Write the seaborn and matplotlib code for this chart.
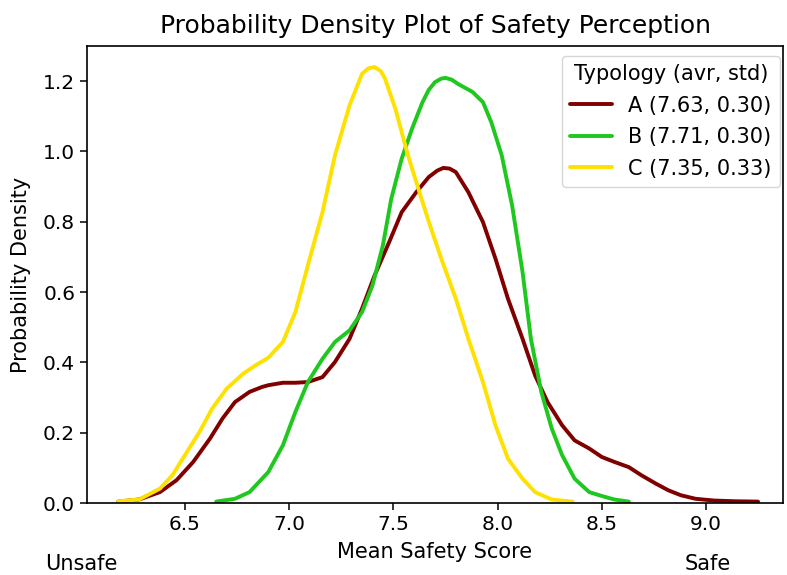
import pandas as pd
import matplotlib
matplotlib.use("Agg")
import matplotlib.pyplot as plt
import seaborn as sns

# density curves (x = mean safety score, y = density)
a_x = [6.18, 6.28, 6.38, 6.46, 6.54, 6.62, 6.68, 6.74, 6.81, 6.87, 6.90, 6.97, 7.03,
       7.09, 7.16, 7.22, 7.29, 7.35, 7.41, 7.48, 7.54, 7.61, 7.67, 7.71, 7.74, 7.77,
       7.80, 7.86, 7.93, 7.99, 8.05, 8.12, 8.18, 8.24, 8.31, 8.37, 8.44, 8.50, 8.56,
       8.63, 8.69, 8.76, 8.82, 8.88, 8.95, 9.04, 9.14, 9.25]
a_y = [0.004, 0.010, 0.031, 0.065, 0.117, 0.183, 0.240, 0.287, 0.316, 0.330, 0.335,
       0.342, 0.342, 0.344, 0.358, 0.401, 0.467, 0.553, 0.647, 0.742, 0.827, 0.884,
       0.927, 0.945, 0.953, 0.951, 0.941, 0.884, 0.799, 0.695, 0.581, 0.467, 0.363,
       0.287, 0.221, 0.178, 0.155, 0.131, 0.117, 0.102, 0.079, 0.055, 0.036, 0.022,
       0.012, 0.007, 0.005, 0.004]

b_x = [6.65, 6.74, 6.81, 6.87, 6.90, 6.97, 7.03, 7.09, 7.16, 7.22, 7.29, 7.35, 7.40,
       7.45, 7.49, 7.54, 7.59, 7.64, 7.67, 7.70, 7.73, 7.75, 7.78, 7.81, 7.88, 7.93,
       7.97, 8.02, 8.07, 8.12, 8.16, 8.21, 8.26, 8.31, 8.37, 8.44, 8.50, 8.56, 8.63]
b_y = [0.004, 0.012, 0.031, 0.069, 0.088, 0.164, 0.259, 0.344, 0.410, 0.458, 0.491,
       0.543, 0.619, 0.733, 0.865, 0.979, 1.065, 1.140, 1.175, 1.197, 1.207, 1.209,
       1.204, 1.192, 1.169, 1.140, 1.083, 0.989, 0.846, 0.657, 0.467, 0.316, 0.212,
       0.136, 0.069, 0.031, 0.020, 0.010, 0.004]

c_x = [6.18, 6.28, 6.38, 6.44, 6.50, 6.57, 6.63, 6.70, 6.78, 6.84, 6.90, 6.97, 7.03,
       7.09, 7.16, 7.22, 7.29, 7.35, 7.38, 7.41, 7.44, 7.46, 7.51, 7.57, 7.64, 7.67,
       7.73, 7.80, 7.86, 7.93, 7.99, 8.05, 8.12, 8.18, 8.26, 8.36]
c_y = [0.005, 0.010, 0.041, 0.079, 0.136, 0.202, 0.268, 0.325, 0.368, 0.392, 0.413,
       0.458, 0.543, 0.676, 0.827, 0.989, 1.131, 1.221, 1.236, 1.240, 1.228, 1.207,
       1.121, 0.989, 0.856, 0.800, 0.695, 0.581, 0.467, 0.344, 0.221, 0.126, 0.069,
       0.031, 0.010, 0.004]

labels = ["A (7.63, 0.30)", "B (7.71, 0.30)", "C (7.35, 0.33)"]
colors = ["#800000", "#1ec81e", "#ffe100"]

frames = []
for lab, xs, ys in zip(labels, [a_x, b_x, c_x], [a_y, b_y, c_y]):
    frames.append(pd.DataFrame({"score": xs, "density": ys, "typology": lab}))
df = pd.concat(frames, ignore_index=True)

sns.set_style("ticks")
plt.rcParams['font.family'] = ['DejaVu Sans']
plt.rcParams['text.color'] = 'black'
plt.rcParams['axes.labelcolor'] = 'black'
plt.rcParams['xtick.color'] = 'black'
plt.rcParams['ytick.color'] = 'black'

fig = plt.figure(figsize=(7.87, 5.75), dpi=100)
ax = fig.add_axes([0.1105, 0.1252, 0.8845, 0.795])

sns.lineplot(data=df, x="score", y="density", hue="typology",
             palette=dict(zip(labels, colors)), estimator=None, sort=False,
             linewidth=2.8, ax=ax)

ax.set_xlim(6.03, 9.37)
ax.set_ylim(0, 1.30)
ax.set_xticks([6.5, 7.0, 7.5, 8.0, 8.5, 9.0])
ax.set_yticks([0.0, 0.2, 0.4, 0.6, 0.8, 1.0, 1.2])
ax.tick_params(labelsize=14.5, length=5, width=1.1)
ax.set_xlabel("Mean Safety Score", fontsize=15, labelpad=6)
ax.set_ylabel("Probability Density", fontsize=15, labelpad=9)
ax.set_title("Probability Density Plot of Safety Perception", fontsize=18, pad=9)
for s in ax.spines.values():
    s.set_color("black")
    s.set_linewidth(1.2)

leg = ax.legend(title="Typology (avr, std)", loc="upper right", fontsize=15,
                title_fontsize=15, frameon=True, borderaxespad=0,
                bbox_to_anchor=(0.9957, 0.978), labelspacing=0.55)

fig.text(0.057, 0.002, "Unsafe", fontsize=15, va="bottom")
fig.text(0.870, 0.002, "Safe", fontsize=15, va="bottom")

fig.savefig("out.png", dpi=100)
